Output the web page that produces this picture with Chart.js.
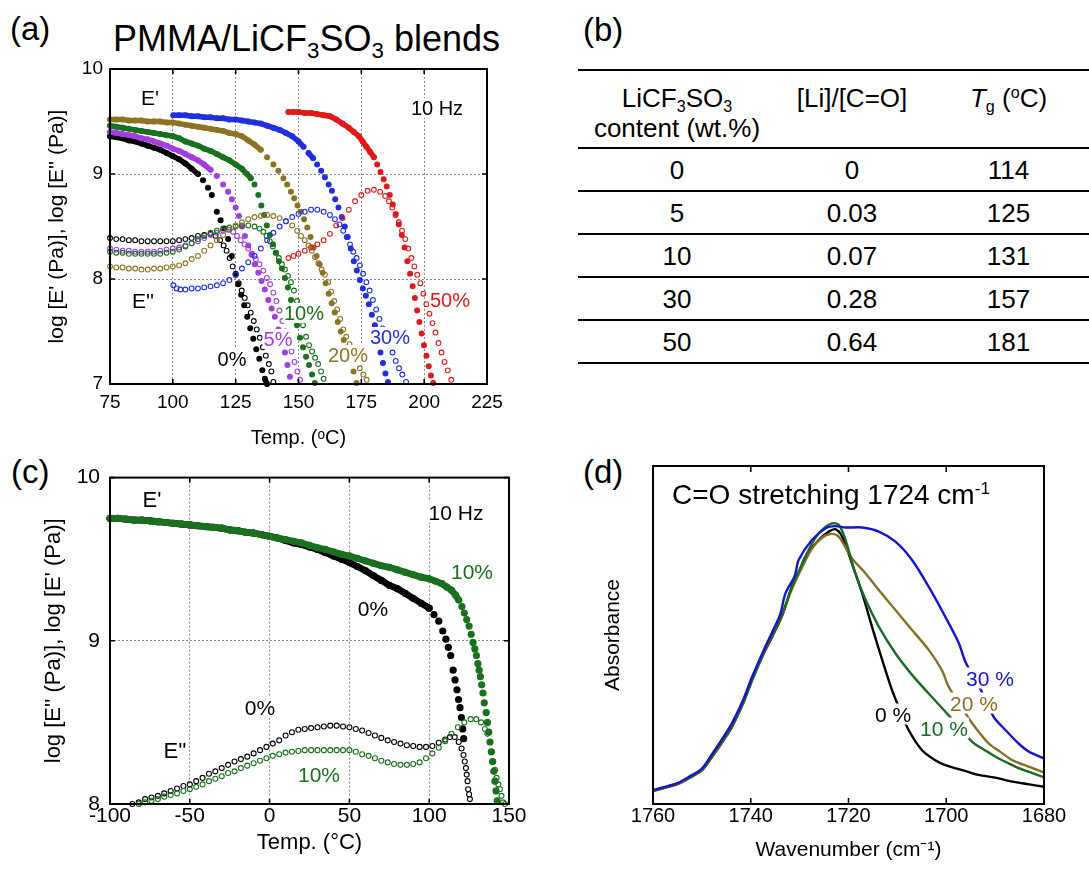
<!DOCTYPE html>
<html>
<head>
<meta charset="utf-8">
<script src="https://cdn.jsdelivr.net/npm/chart.js@4.4.0/dist/chart.umd.min.js"></script>
<style>
  body { margin: 0; width: 1089px; height: 871px; background: #fff; position: relative; overflow: hidden;
         font-family: 'Liberation Sans', Arial, sans-serif; color: #000; }
  .box { position: absolute; }
  .panel { position: absolute; font-size: 33px; line-height: 1; }
  .lab { position: absolute; line-height: 1; white-space: nowrap; transform: translate(-50%, -50%);
         background: #fff; padding: 0 1px; font-size: 20px; }
  sub { font-size: 0.62em; vertical-align: -0.32em; line-height: 0; }
  sup { font-size: 0.62em; vertical-align: 0.55em; line-height: 0; }
  #tbl { position: absolute; left: 578px; top: 69px; width: 511px; border-collapse: collapse; font-size: 26px; }
  #tbl th, #tbl td { padding: 0; text-align: center; font-weight: normal; }
  #tbl thead tr { height: 78px; border-top: 2px solid #000; border-bottom: 2px solid #000; }
  #tbl th { vertical-align: top; padding-top: 12px; line-height: 30px; }
  #tbl tbody tr { height: 43px; border-bottom: 2px solid #000; }
  #tbl td { line-height: 26px; vertical-align: middle; }
</style>
</head>
<body>

<div class="panel" style="left:10px; top:12px;">(a)</div>
<div class="panel" style="left:583px; top:13px;">(b)</div>
<div class="panel" style="left:11px; top:455px;">(c)</div>
<div class="panel" style="left:583px; top:455px;">(d)</div>
<div style="position:absolute; left:113px; top:21px; font-size:36px; line-height:1; white-space:nowrap;">PMMA/LiCF<sub>3</sub>SO<sub>3</sub> blends</div>

<div class="box" style="left:0; top:50px;"><canvas id="chartA" width="520" height="405"></canvas></div>
<div class="box" style="left:0; top:455px;"><canvas id="chartC" width="540" height="416"></canvas></div>
<div class="box" style="left:560px; top:455px;"><canvas id="chartD" width="529" height="416"></canvas></div>

<table id="tbl">
  <colgroup><col style="width:198px"><col style="width:152px"><col style="width:161px"></colgroup>
  <thead>
    <tr>
      <th>LiCF<sub>3</sub>SO<sub>3</sub><br>content (wt.%)</th>
      <th>[Li]/[C=O]</th>
      <th><i>T</i><sub>g</sub> (<sup>o</sup>C)</th>
    </tr>
  </thead>
  <tbody id="tbody"></tbody>
</table>

<!-- labels inside panel (a) -->
<div class="lab" style="left:150px; top:97px; font-size:21px;">E'</div>
<div class="lab" style="left:437px; top:108px;">10 Hz</div>
<div class="lab" style="left:143px; top:300px; font-size:21px;">E''</div>
<div class="lab" style="left:232px; top:359px;">0%</div>
<div class="lab" style="left:278px; top:339px; color:#a23ee0;">5%</div>
<div class="lab" style="left:304px; top:313px; color:#19701e;">10%</div>
<div class="lab" style="left:348px; top:355px; color:#8a7424;">20%</div>
<div class="lab" style="left:390px; top:337px; color:#1f2fe0;">30%</div>
<div class="lab" style="left:450px; top:300px; color:#e0191b;">50%</div>

<!-- labels inside panel (c) -->
<div class="lab" style="left:152px; top:500px; font-size:22px;">E'</div>
<div class="lab" style="left:456px; top:512px; font-size:21px;">10 Hz</div>
<div class="lab" style="left:472px; top:571px; font-size:21px; color:#19701e;">10%</div>
<div class="lab" style="left:373px; top:608px; font-size:21px;">0%</div>
<div class="lab" style="left:260px; top:707px; font-size:21px;">0%</div>
<div class="lab" style="left:175px; top:751px; font-size:22px;">E''</div>
<div class="lab" style="left:319px; top:774px; font-size:21px; color:#19701e;">10%</div>

<!-- labels inside panel (d) -->
<div style="position:absolute; left:672px; top:481px; font-size:28px; line-height:1; white-space:nowrap;">C=O stretching 1724 cm<sup>-1</sup></div>
<div class="lab" style="left:990px; top:678px; font-size:21px; color:#1515cc;">30 %</div>
<div class="lab" style="left:974px; top:703px; font-size:21px; color:#857025;">20 %</div>
<div class="lab" style="left:893px; top:714px; font-size:21px;">0 %</div>
<div class="lab" style="left:944px; top:728px; font-size:21px; color:#1b6b26;">10 %</div>

<script>
// ---- (b) table ----
const contentWt = ['0', '5', '10', '30', '50'];
const liRatio = ['0', '0.03', '0.07', '0.28', '0.64'];
const tgValues = ['114', '125', '131', '157', '181'];

// ---- (a) [temperature °C, log modulus]; E1 = E' (filled), E2 = E'' (open) ----
const a_E1_0 = [[75,9.36],[77.5,9.35],[80,9.34],[82.5,9.32],[85,9.31],[87.5,9.29],[90,9.27],[92.5,9.25],[95,9.23],[97.5,9.2],[100,9.17],[102.5,9.14],[105,9.1],[107.5,9.05],[110,9.0],[112,8.94],[114,8.87],[115.5,8.8],[117.5,8.64],[119,8.56],[120.5,8.48],[122,8.38],[123.5,8.22],[125,8.05],[126,7.95],[127.2,7.85],[128.4,7.75],[129.6,7.64],[130.8,7.53],[132,7.43],[133.2,7.33],[134.4,7.24],[135.6,7.13],[136.6,7.05],[137.5,7.0]];
const a_E2_0 = [[75,8.39],[77.5,8.38],[80,8.38],[82.5,8.37],[85,8.37],[87.5,8.36],[90,8.36],[92.5,8.36],[95,8.36],[97.5,8.36],[100,8.36],[102.5,8.37],[105,8.38],[107.5,8.39],[110,8.41],[112.5,8.42],[115,8.43],[117,8.41],[118.8,8.37],[120.2,8.32],[121.4,8.27],[122.6,8.2],[123.8,8.12],[125,8.04],[126.2,7.96],[127.4,7.89],[128.6,7.82],[129.8,7.75],[131,7.68],[132.2,7.6],[133.4,7.52],[134.6,7.44],[135.8,7.35],[137,7.27],[138.2,7.19],[139.2,7.12],[140,7.02]];
const a_E1_5 = [[75,9.40],[77.5,9.39],[80,9.38],[82.5,9.37],[85,9.36],[87.5,9.34],[90,9.33],[92.5,9.31],[95,9.29],[97.5,9.27],[100,9.24],[102.5,9.22],[105,9.19],[107.5,9.16],[110,9.13],[112.5,9.09],[115,9.04],[117.5,8.98],[120,8.9],[122,8.83],[123.5,8.76],[125,8.68],[126.3,8.6],[127.5,8.5],[128.7,8.41],[130,8.32],[131.3,8.23],[132.6,8.14],[134,8.06],[135.3,7.98],[136.6,7.9],[138,7.8],[139.3,7.72],[140.6,7.64],[142,7.52],[143.3,7.42],[144.6,7.3],[145.6,7.18],[146.6,7.07]];
const a_E2_5 = [[75,8.29],[77.5,8.28],[80,8.27],[82.5,8.27],[85,8.26],[87.5,8.26],[90,8.26],[92.5,8.26],[95,8.27],[97.5,8.28],[100,8.29],[102.5,8.3],[105,8.32],[107.5,8.34],[110,8.36],[112.5,8.39],[115,8.42],[117.5,8.44],[120,8.46],[122,8.47],[124,8.45],[125.5,8.41],[127,8.37],[128.5,8.33],[130,8.29],[131.5,8.24],[133,8.19],[134.5,8.14],[136,8.08],[137.4,8.01],[138.7,7.95],[140,7.87],[141.2,7.79],[142.4,7.7],[143.6,7.6],[144.8,7.5],[146,7.41],[147.2,7.31],[148.4,7.21],[149.6,7.12],[150.6,7.04]];
const a_E1_10 = [[75,9.46],[77.5,9.45],[80,9.44],[82.5,9.43],[85,9.42],[87.5,9.41],[90,9.4],[92.5,9.39],[95,9.38],[97.5,9.37],[100,9.36],[102.5,9.34],[105,9.31],[107.5,9.29],[110,9.27],[112.5,9.24],[115,9.22],[117.5,9.19],[120,9.16],[122.5,9.13],[125,9.09],[127.5,9.05],[129.5,9.0],[131,8.96],[132.5,8.9],[134,8.8],[135.2,8.7],[136.3,8.61],[137.4,8.51],[138.6,8.42],[139.8,8.33],[141,8.25],[142.2,8.17],[143.4,8.1],[144.6,8.01],[145.8,7.92],[147,7.8],[148.2,7.69],[149.4,7.56],[150.6,7.44],[151.8,7.35],[153,7.26],[154.2,7.18],[155.4,7.09],[156.5,7.01]];
const a_E2_10 = [[75,8.26],[77.5,8.25],[80,8.25],[82.5,8.24],[85,8.24],[87.5,8.24],[90,8.24],[92.5,8.24],[95,8.24],[97.5,8.25],[100,8.26],[102.5,8.28],[105,8.31],[107.5,8.34],[110,8.38],[112.5,8.41],[115,8.44],[117.5,8.46],[120,8.48],[122.5,8.49],[125,8.5],[127.5,8.51],[130,8.51],[132.5,8.5],[134.5,8.48],[136,8.45],[137.3,8.41],[138.6,8.36],[139.8,8.31],[141,8.25],[142.2,8.2],[143.4,8.14],[144.6,8.09],[145.8,8.03],[147,7.97],[148.2,7.89],[149.4,7.79],[150.6,7.68],[151.8,7.56],[153,7.45],[154.2,7.37],[155.4,7.31],[156.6,7.25],[157.8,7.19],[159,7.12],[160,7.05]];
const a_E1_20 = [[75,9.52],[77.5,9.52],[80,9.52],[82.5,9.51],[85,9.51],[87.5,9.51],[90,9.5],[92.5,9.5],[95,9.5],[97.5,9.49],[100,9.49],[102.5,9.48],[105,9.47],[107.5,9.46],[110,9.45],[112.5,9.44],[115,9.43],[117.5,9.42],[120,9.41],[122.5,9.39],[125,9.38],[127.5,9.36],[130,9.32],[132.5,9.28],[135,9.23],[137.5,9.16],[140,9.09],[142,9.03],[144,8.96],[145.5,8.9],[147,8.83],[148.3,8.77],[149.6,8.7],[150.9,8.64],[152.2,8.57],[153.5,8.49],[154.8,8.4],[156,8.3],[157.2,8.22],[158.4,8.14],[159.6,8.06],[160.8,7.96],[162,7.86],[163.2,7.77],[164.4,7.68],[165.6,7.59],[166.8,7.5],[168,7.42],[169.3,7.33],[170.6,7.22],[171.9,7.12],[173.1,7.01]];
const a_E2_20 = [[75,8.12],[77.5,8.11],[80,8.11],[82.5,8.1],[85,8.1],[87.5,8.09],[90,8.09],[92.5,8.1],[95,8.1],[97.5,8.11],[100,8.12],[102.5,8.13],[105,8.15],[107.5,8.19],[110,8.22],[112.5,8.27],[115,8.32],[117.5,8.37],[120,8.42],[122.5,8.47],[125,8.51],[127.5,8.54],[130,8.57],[132.5,8.59],[135,8.6],[137.5,8.61],[140,8.6],[142.5,8.58],[145,8.55],[147.5,8.51],[149.5,8.46],[151,8.41],[152.5,8.37],[154,8.32],[155.3,8.27],[156.6,8.21],[157.9,8.15],[159.2,8.09],[160.5,8.04],[161.8,7.97],[163,7.88],[164.2,7.79],[165.4,7.71],[166.6,7.62],[167.8,7.52],[169,7.45],[170.3,7.38],[171.6,7.3],[173,7.22],[174.4,7.15],[175.8,7.09],[177.1,7.04]];
const a_E1_30 = [[100.2,9.56],[102.5,9.56],[105,9.56],[107.5,9.55],[110,9.55],[112.5,9.54],[115,9.54],[117.5,9.53],[120,9.53],[122.5,9.52],[125,9.52],[127.5,9.51],[130,9.5],[132.5,9.49],[135,9.48],[137.5,9.46],[140,9.44],[142.5,9.42],[145,9.39],[147.5,9.36],[150,9.31],[152,9.26],[154,9.2],[155.8,9.15],[157.4,9.09],[159,9.03],[160.5,8.97],[162,8.9],[163.3,8.84],[164.6,8.76],[165.9,8.68],[167.2,8.59],[168.4,8.5],[169.6,8.4],[170.8,8.29],[172,8.17],[173.2,8.08],[174.4,7.99],[175.6,7.91],[176.8,7.84],[178,7.76],[179.2,7.66],[180.4,7.56],[181.6,7.42],[182.6,7.3],[183.6,7.2],[184.6,7.1],[185.6,7.02]];
const a_E2_30 = [[100.2,7.94],[101.5,7.91],[103,7.9],[105,7.9],[107.5,7.91],[110,7.91],[112.5,7.92],[115,7.93],[117.5,7.94],[120,7.96],[122.5,7.99],[125,8.04],[127.5,8.1],[130,8.16],[132.5,8.22],[135,8.29],[137.5,8.37],[140,8.44],[142.5,8.5],[145,8.55],[147.5,8.59],[150,8.62],[152.5,8.64],[155,8.66],[157.5,8.66],[160,8.64],[162.5,8.61],[164.5,8.57],[166.3,8.52],[167.8,8.46],[169.2,8.4],[170.5,8.33],[171.8,8.26],[173.1,8.2],[174.4,8.13],[175.7,8.05],[177,7.97],[178.3,7.89],[179.6,7.8],[180.9,7.71],[182.2,7.62],[183.5,7.53],[184.8,7.46],[186.1,7.38],[187.4,7.3],[188.7,7.22],[190,7.15],[191.3,7.09],[192.8,7.02]];
const a_E1_50 = [[146,9.59],[148,9.59],[150,9.59],[152.5,9.58],[155,9.58],[157.5,9.57],[160,9.56],[162.5,9.55],[165,9.52],[167.5,9.48],[170,9.44],[172,9.4],[174,9.36],[175.5,9.31],[177,9.26],[178.5,9.21],[180,9.16],[181.3,9.09],[182.6,9.02],[183.9,8.95],[185.1,8.88],[186.3,8.8],[187.5,8.71],[188.7,8.62],[189.9,8.52],[191.1,8.42],[192.2,8.3],[193.3,8.17],[194.4,8.05],[195.4,7.93],[196.3,7.82],[197.2,7.7],[198.1,7.59],[199,7.48],[199.9,7.37],[200.9,7.27],[201.8,7.17],[202.7,7.08],[203.6,7.01]];
const a_E2_50 = [[146,8.2],[148,8.22],[150,8.24],[152.5,8.27],[155,8.3],[157.5,8.33],[160,8.37],[162.5,8.43],[165,8.51],[167.5,8.58],[170,8.66],[172.5,8.74],[175,8.8],[177.5,8.84],[180,8.85],[182.5,8.83],[184.5,8.79],[186,8.74],[187.3,8.68],[188.6,8.61],[189.9,8.54],[191.2,8.46],[192.5,8.38],[193.7,8.29],[194.9,8.2],[196.1,8.12],[197.3,8.04],[198.5,7.96],[199.7,7.86],[200.9,7.76],[202.1,7.67],[203.3,7.58],[204.5,7.49],[205.7,7.39],[206.9,7.3],[208.1,7.21],[209.4,7.13],[210.8,7.04]];

// ---- (c) [temperature °C, log modulus] ----
const c_E1_0 = [[-100,9.75],[-95,9.75],[-90,9.745],[-85,9.74],[-80,9.74],[-75,9.735],[-70,9.73],[-65,9.725],[-60,9.72],[-55,9.715],[-50,9.71],[-45,9.705],[-40,9.7],[-35,9.695],[-30,9.69],[-25,9.68],[-20,9.675],[-15,9.665],[-10,9.66],[-5,9.65],[0,9.64],[5,9.63],[10,9.615],[15,9.6],[20,9.59],[25,9.575],[30,9.56],[35,9.54],[40,9.52],[45,9.5],[50,9.48],[55,9.455],[60,9.43],[65,9.4],[70,9.37],[75,9.34],[80,9.32],[85,9.29],[90,9.26],[95,9.23],[100,9.2],[103,9.16],[106,9.12],[108.5,9.06],[110.5,9.01],[112,8.96],[113.5,8.91],[115,8.82],[116.2,8.76],[117.4,8.7],[118.4,8.64],[119.3,8.59],[120.2,8.53],[121,8.46],[121.6,8.4]];
const c_E1_10 = [[-100,9.75],[-95,9.75],[-90,9.745],[-85,9.74],[-80,9.74],[-75,9.735],[-70,9.73],[-65,9.725],[-60,9.72],[-55,9.715],[-50,9.71],[-45,9.705],[-40,9.7],[-35,9.695],[-30,9.69],[-25,9.68],[-20,9.675],[-15,9.665],[-10,9.66],[-5,9.65],[0,9.64],[5,9.63],[10,9.62],[15,9.61],[20,9.6],[25,9.585],[30,9.57],[35,9.56],[40,9.545],[45,9.53],[50,9.52],[55,9.505],[60,9.49],[65,9.475],[70,9.46],[75,9.45],[80,9.435],[85,9.42],[90,9.405],[95,9.39],[100,9.38],[104,9.365],[108,9.35],[111,9.33],[114,9.31],[116.5,9.28],[118.5,9.25],[120.5,9.21],[122,9.17],[123.5,9.13],[125,9.09],[126.3,9.04],[127.5,8.99],[128.6,8.95],[129.6,8.91],[130.5,8.86],[131.3,8.82],[132.1,8.78],[132.9,8.73],[133.7,8.68],[134.5,8.62],[135.7,8.56],[136.5,8.5],[137.3,8.44],[138.1,8.38],[138.9,8.32],[139.7,8.26],[140.5,8.2],[141.2,8.14],[141.9,8.08],[142.6,8.02]];
const c_E2_0 = [[-86,8.0],[-82,8.01],[-78,8.03],[-74,8.04],[-70,8.05],[-66,8.065],[-62,8.08],[-58,8.095],[-54,8.11],[-50,8.12],[-46,8.14],[-42,8.16],[-38,8.185],[-34,8.2],[-30,8.22],[-26,8.24],[-22,8.26],[-18,8.275],[-14,8.29],[-10,8.31],[-6,8.33],[-2,8.35],[2,8.37],[6,8.39],[10,8.42],[14,8.44],[18,8.455],[22,8.46],[26,8.465],[30,8.47],[34,8.475],[38,8.48],[42,8.48],[46,8.475],[50,8.47],[54,8.46],[58,8.45],[62,8.435],[66,8.42],[70,8.405],[74,8.39],[78,8.38],[82,8.37],[86,8.36],[90,8.355],[94,8.35],[98,8.35],[102,8.355],[106,8.375],[110,8.395],[113,8.41],[116,8.41],[118.5,8.38],[120.3,8.34],[121.5,8.3],[122.3,8.26],[123,8.22],[123.5,8.18],[124,8.14],[124.4,8.09],[125,8.06],[125.5,8.03]];
const c_E2_10 = [[-82,8.0],[-78,8.01],[-74,8.02],[-70,8.03],[-66,8.045],[-62,8.055],[-58,8.065],[-54,8.08],[-50,8.09],[-46,8.105],[-42,8.12],[-38,8.14],[-34,8.155],[-30,8.17],[-26,8.19],[-22,8.2],[-18,8.22],[-14,8.235],[-10,8.25],[-6,8.265],[-2,8.28],[2,8.295],[6,8.305],[10,8.315],[14,8.32],[18,8.325],[22,8.33],[26,8.33],[30,8.33],[34,8.33],[38,8.33],[42,8.33],[46,8.33],[50,8.33],[54,8.32],[58,8.305],[62,8.295],[66,8.28],[70,8.265],[74,8.255],[78,8.245],[82,8.24],[86,8.24],[90,8.245],[94,8.255],[98,8.28],[102,8.31],[106,8.345],[110,8.385],[114,8.43],[118,8.47],[122,8.5],[126,8.52],[129.5,8.52],[132.5,8.5],[134.9,8.46],[136.5,8.43],[138,8.38],[139.2,8.32],[140.1,8.26],[141.2,8.21],[142.2,8.16],[143.3,8.12],[144.3,8.09],[145.3,8.05],[146.3,8.01],[147.5,8.0]];

// ---- (d) [wavenumber cm-1, absorbance (relative)] ----
const d_0 = [[1760,0.039],[1755,0.06],[1752.7,0.076],[1750,0.1],[1747.9,0.14],[1745.5,0.19],[1743.8,0.229],[1741.5,0.3],[1739.7,0.367],[1737.5,0.44],[1735.6,0.495],[1733.5,0.56],[1731.6,0.643],[1730,0.69],[1728.8,0.732],[1726.1,0.781],[1724,0.806],[1722.7,0.813],[1721.3,0.791],[1719.3,0.712],[1717.2,0.623],[1715.2,0.525],[1713.1,0.426],[1711.1,0.337],[1709.5,0.28],[1707.7,0.219],[1705,0.16],[1702.5,0.132],[1700.2,0.115],[1696,0.097],[1693.4,0.086],[1690,0.078],[1686.5,0.066],[1683,0.058],[1680,0.051]];
const d_10 = [[1760,0.039],[1755,0.06],[1752.7,0.077],[1750,0.1],[1747.9,0.142],[1745.5,0.192],[1743.8,0.232],[1741.5,0.303],[1739.7,0.37],[1737.5,0.445],[1735.6,0.5],[1733.5,0.565],[1731.6,0.64],[1729.5,0.71],[1727.5,0.77],[1725.5,0.81],[1723.4,0.83],[1722,0.826],[1720.6,0.781],[1718.6,0.682],[1716.5,0.604],[1713.8,0.525],[1710.4,0.446],[1707,0.382],[1703.6,0.327],[1700.5,0.278],[1697.5,0.23],[1694.7,0.184],[1692,0.158],[1689.9,0.14],[1687.5,0.122],[1685.2,0.106],[1682.5,0.092],[1680,0.079]];
const d_20 = [[1760,0.038],[1755,0.058],[1752.7,0.075],[1750,0.1],[1747.9,0.14],[1745.5,0.19],[1743.8,0.23],[1741.5,0.302],[1739.7,0.368],[1737.5,0.443],[1735.6,0.498],[1733.5,0.562],[1731.6,0.635],[1729.5,0.7],[1727.5,0.755],[1725.5,0.787],[1723.7,0.799],[1722,0.791],[1719.3,0.727],[1716.5,0.682],[1713.8,0.633],[1710.4,0.574],[1707,0.515],[1703.6,0.456],[1700.9,0.396],[1699.5,0.347],[1697,0.29],[1694.7,0.239],[1691.3,0.179],[1689,0.155],[1686.5,0.13],[1683,0.11],[1680,0.093]];
const d_30 = [[1760,0.041],[1755,0.062],[1752.7,0.08],[1750,0.105],[1747.9,0.148],[1745.5,0.2],[1743.8,0.24],[1741.5,0.31],[1739.7,0.377],[1737.5,0.45],[1735.6,0.509],[1734,0.56],[1732.9,0.623],[1731,0.675],[1730.2,0.722],[1727.5,0.781],[1724.7,0.816],[1722.7,0.822],[1720.6,0.818],[1717.2,0.818],[1713.8,0.806],[1710.4,0.776],[1707,0.722],[1703.6,0.643],[1700.2,0.554],[1697.4,0.475],[1696.1,0.421],[1693,0.34],[1690.3,0.258],[1687.9,0.219],[1685.2,0.179],[1683.1,0.155],[1680,0.135]];

const FONT = "'Liberation Sans', Arial, sans-serif";
Chart.defaults.font.family = FONT;
Chart.defaults.color = '#000';
Chart.defaults.animation = false;

const COL = { k: '#000000', p: '#a23ee0', g: '#19701e', o: '#8a7424', b: '#1f2fe0', r: '#e0191b' };

// frame round the plot area plus short inward ticks
const frame = {
  id: 'frame',
  afterDraw(chart, args, opts) {
    const { ctx, chartArea: a, scales } = chart;
    const len = opts.len || 5;
    ctx.save();
    ctx.strokeStyle = '#000';
    ctx.lineWidth = 1.6;
    ctx.beginPath();
    scales.x.ticks.forEach((t, i) => {
      const px = scales.x.getPixelForTick(i);
      ctx.moveTo(px, a.top); ctx.lineTo(px, a.top + len);
      ctx.moveTo(px, a.bottom); ctx.lineTo(px, a.bottom - len);
    });
    if (opts.yTicks) {
      scales.y.ticks.forEach((t, i) => {
        const py = scales.y.getPixelForTick(i);
        ctx.moveTo(a.left, py); ctx.lineTo(a.left + len, py);
        ctx.moveTo(a.right, py); ctx.lineTo(a.right - len, py);
      });
    }
    ctx.stroke();
    ctx.lineWidth = 2;
    ctx.strokeRect(a.left, a.top, a.right - a.left, a.bottom - a.top);
    ctx.restore();
  }
};

const toXY = arr => arr.map(([x, y]) => ({ x, y }));

// dense stretches of E' read as a solid band; where the readings drop fast the band breaks into dots
const bandGap = ctx => Math.abs(ctx.p1.y - ctx.p0.y) > 6 ? 'rgba(0,0,0,0)' : undefined;

function filled(arr, color, r) {
  return { data: toXY(arr), showLine: true, borderColor: color, borderWidth: 2 * r - 0.5, borderCapStyle: 'round',
           segment: { borderColor: bandGap }, tension: 0,
           pointRadius: r, pointHoverRadius: r, pointBackgroundColor: color, pointBorderWidth: 0, clip: 6 };
}
function hollow(arr, color, r) {
  return { data: toXY(arr), showLine: false, pointRadius: r, pointHoverRadius: r,
           pointBackgroundColor: 'rgba(255,255,255,0)', pointBorderColor: color, pointBorderWidth: 1.1, clip: 6 };
}
function trace(arr, color) {
  return { data: toXY(arr), showLine: true, borderColor: color, borderWidth: 2.4,
           pointRadius: 0, tension: 0.3, fill: false };
}

function axes(o) {
  return {
    x: {
      type: 'linear', min: o.xmin, max: o.xmax, reverse: !!o.rev,
      afterFit: s => { s.height = o.xh; },
      ticks: { stepSize: o.xstep, padding: o.xpad, maxRotation: 0, autoSkip: false, font: { size: o.tick },
               callback: v => String(v) },
      grid: { display: o.grid, color: '#8a8a8a', lineWidth: 1, drawTicks: false },
      border: { display: false, dash: [2, 2] },
      title: { display: true, text: o.xtitle, font: { size: o.xtsize }, padding: { top: 0, bottom: o.xtpad } }
    },
    y: {
      type: 'linear', min: o.ymin, max: o.ymax,
      afterFit: s => { s.width = o.yw; },
      ticks: { display: o.yticks, stepSize: 1, padding: o.ypad, font: { size: o.tick } },
      grid: { display: o.grid, color: '#8a8a8a', lineWidth: 1, drawTicks: false },
      border: { display: false, dash: [2, 2] },
      title: { display: true, text: o.ytitle, font: { size: o.ytsize }, padding: { top: o.ytpad, bottom: 0 } }
    }
  };
}

const common = {
  responsive: false,
  animation: false,
  events: [],
  plugins: { legend: { display: false }, tooltip: { enabled: false } }
};

// (a) — Chart.js paints the first dataset on top
new Chart(document.getElementById('chartA'), {
  type: 'scatter',
  data: { datasets: [
    hollow(a_E2_50, COL.r, 2.4), filled(a_E1_50, COL.r, 3),
    hollow(a_E2_30, COL.b, 2.4), filled(a_E1_30, COL.b, 3),
    hollow(a_E2_20, COL.o, 2.4), filled(a_E1_20, COL.o, 3),
    hollow(a_E2_10, COL.g, 2.4), filled(a_E1_10, COL.g, 3),
    hollow(a_E2_5, COL.p, 2.4), filled(a_E1_5, COL.p, 3),
    hollow(a_E2_0, COL.k, 2.4), filled(a_E1_0, COL.k, 3)
  ] },
  options: { ...common,
    layout: { padding: { top: 19, right: 33, bottom: 0, left: 0 } },
    scales: axes({ xmin: 75, xmax: 225, xstep: 25, ymin: 7, ymax: 10, xh: 71, yw: 110, tick: 19,
                   xpad: 7, ypad: 7, grid: true, yticks: true,
                   xtitle: 'Temp. (ᵒC)', xtsize: 20, xtpad: 5,
                   ytitle: "log [E' (Pa)], log [E'' (Pa)]", ytsize: 21, ytpad: 45 }),
    plugins: { ...common.plugins, frame: { yTicks: true } }
  },
  plugins: [frame]
});

// (c)
new Chart(document.getElementById('chartC'), {
  type: 'scatter',
  data: { datasets: [
    hollow(c_E2_10, COL.g, 2.5), hollow(c_E2_0, COL.k, 2.5),
    filled(c_E1_10, COL.g, 3.6), filled(c_E1_0, COL.k, 3.6)
  ] },
  options: { ...common,
    layout: { padding: { top: 14, right: 31, bottom: 0, left: 0 } },
    scales: axes({ xmin: -100, xmax: 150, xstep: 50, ymin: 8, ymax: 10, xh: 67, yw: 110, tick: 21,
                   xpad: 0, ypad: 10, grid: true, yticks: true,
                   xtitle: 'Temp. (°C)', xtsize: 22, xtpad: 15,
                   ytitle: "log [E'' (Pa)], log [E' (Pa)]", ytsize: 22, ytpad: 41 }),
    plugins: { ...common.plugins, frame: { yTicks: true } }
  },
  plugins: [frame]
});

// (d)
new Chart(document.getElementById('chartD'), {
  type: 'scatter',
  data: { datasets: [
    trace(d_30, '#1515cc'), trace(d_10, '#1b6b26'), trace(d_20, '#857025'), trace(d_0, '#000000')
  ] },
  options: { ...common,
    layout: { padding: { top: 11, right: 45, bottom: 0, left: 0 } },
    scales: axes({ xmin: 1680, xmax: 1760, xstep: 20, rev: true, ymin: 0, ymax: 1, xh: 67, yw: 93, tick: 20,
                   xpad: 0, ypad: 0, grid: false, yticks: false,
                   xtitle: 'Wavenumber (cm⁻¹)', xtsize: 21, xtpad: 8,
                   ytitle: 'Absorbance', ytsize: 21, ytpad: 41 }),
    plugins: { ...common.plugins, frame: { yTicks: false, len: 6 } }
  },
  plugins: [frame]
});

// (b) table rows
const tbody = document.getElementById('tbody');
contentWt.forEach((c, i) => {
  const tr = document.createElement('tr');
  tr.innerHTML = `<td>${c}</td><td>${liRatio[i]}</td><td>${tgValues[i]}</td>`;
  tbody.appendChild(tr);
});
</script>
</body>
</html>
